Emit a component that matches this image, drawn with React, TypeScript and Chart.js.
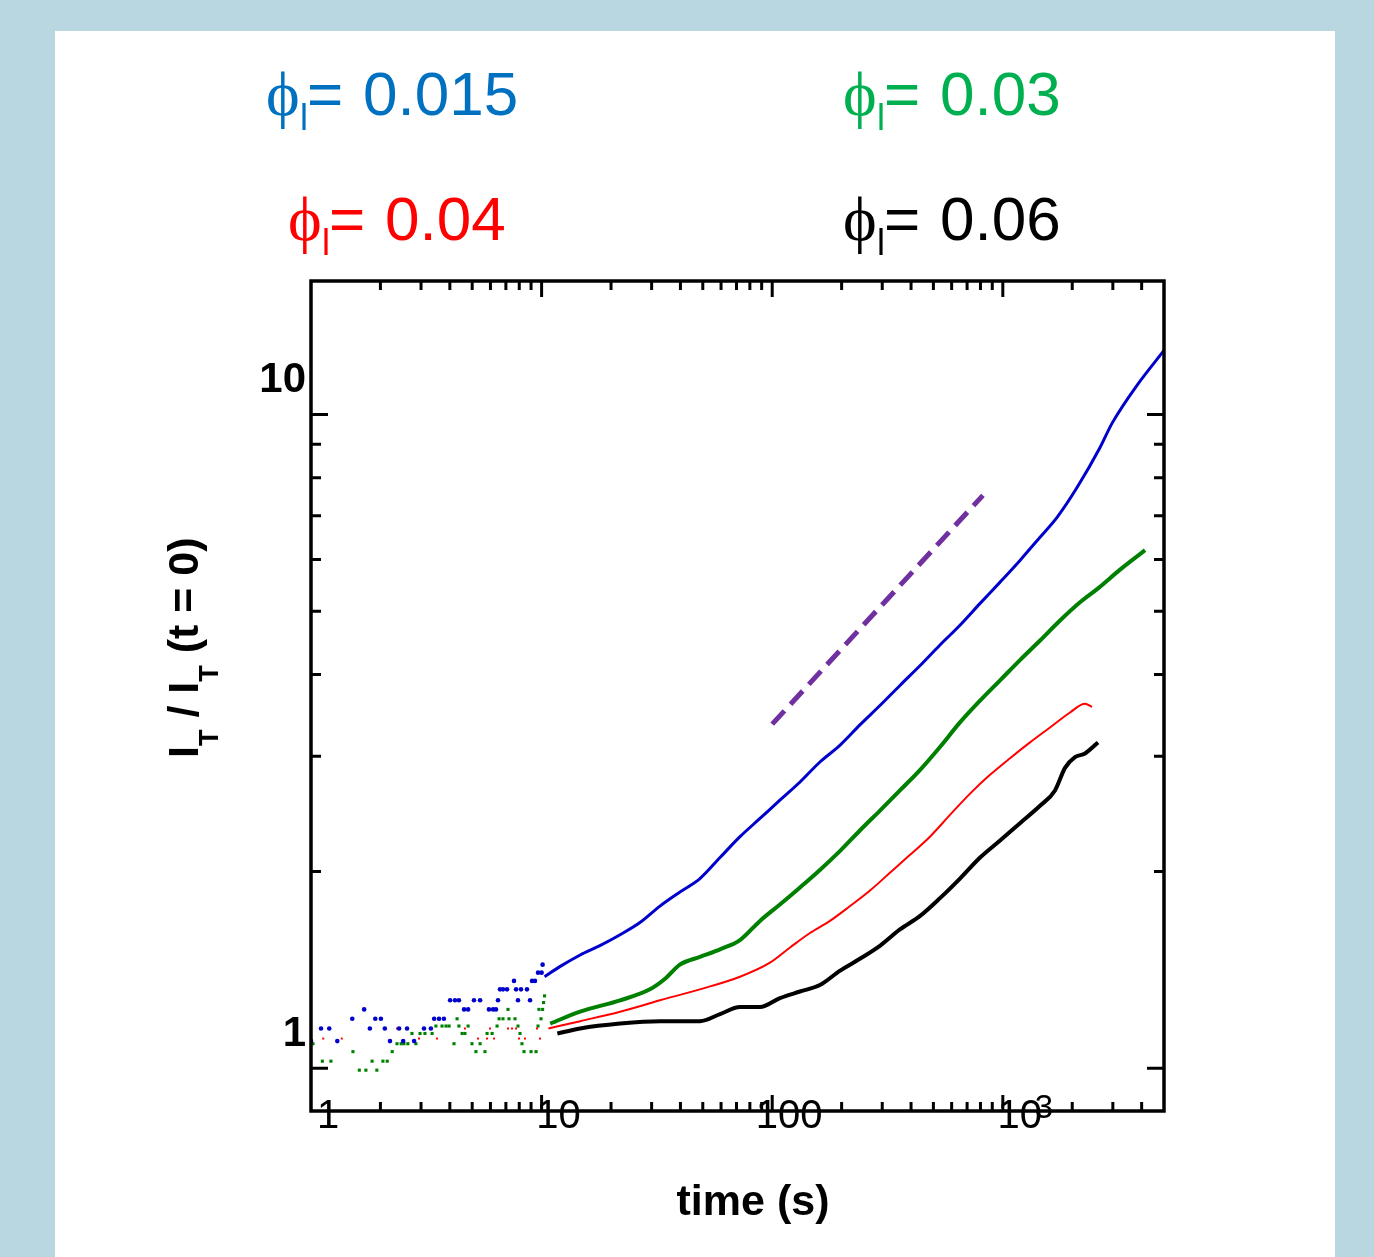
import { useEffect, useRef } from 'react';
import { Chart, registerables } from 'chart.js';

Chart.register(...registerables);

// ---------- data (time in s, normalized intensity) ----------
const blueDotT = [1.0, 1.105, 1.2, 1.3, 1.51, 1.7, 1.8, 1.9, 2.01, 2.09, 2.2, 2.41, 2.51, 2.61, 2.8, 3.09, 3.31, 3.42, 3.59, 3.77, 4.01, 4.21, 4.38, 4.61, 4.8, 5.09, 5.41, 5.91, 6.16, 6.34, 6.47, 6.6, 6.8, 7.08, 7.59, 7.75, 7.9, 8.14, 8.64, 8.91, 9.09, 9.36, 9.65, 10.0, 10.1];
const blueDotY = [1.1, 1.15, 1.15, 1.1, 1.19, 1.23, 1.15, 1.19, 1.19, 1.15, 1.1, 1.15, 1.1, 1.15, 1.1, 1.15, 1.15, 1.19, 1.19, 1.19, 1.27, 1.27, 1.27, 1.23, 1.23, 1.27, 1.27, 1.23, 1.23, 1.23, 1.27, 1.32, 1.32, 1.32, 1.36, 1.32, 1.27, 1.32, 1.32, 1.27, 1.36, 1.36, 1.4, 1.4, 1.44];

const greenDotT = [1.02, 1.12, 1.22, 1.52, 1.62, 1.73, 1.84, 1.93, 2.05, 2.14, 2.25, 2.36, 2.46, 2.53, 2.63, 2.74, 2.85, 2.97, 3.12, 3.35, 3.48, 3.59, 3.7, 3.85, 3.97, 4.17, 4.3, 4.38, 4.52, 4.65, 4.8, 4.99, 5.19, 5.41, 5.68, 5.8, 6.1, 6.41, 6.54, 6.8, 7.15, 7.22, 7.67, 7.9, 8.06, 8.22, 8.39, 9.0, 9.46, 9.65, 9.74, 9.94, 10.1, 10.2, 10.3];
const greenDotY = [1.09, 1.025, 1.025, 1.06, 0.993, 0.993, 1.025, 0.993, 1.025, 1.025, 1.06, 1.09, 1.09, 1.09, 1.09, 1.13, 1.09, 1.13, 1.13, 1.13, 1.16, 1.19, 1.16, 1.16, 1.16, 1.09, 1.19, 1.16, 1.13, 1.13, 1.16, 1.09, 1.06, 1.09, 1.06, 1.13, 1.13, 1.16, 1.19, 1.19, 1.23, 1.19, 1.19, 1.16, 1.13, 1.09, 1.06, 1.06, 1.06, 1.16, 1.23, 1.19, 1.23, 1.26, 1.29];

const redDotT = [1.13, 1.36, 2.36, 2.94, 3.52, 4.65, 5.3, 5.8, 5.97, 6.22, 7.15, 7.44, 7.75, 7.98, 8.47, 9.55, 9.84];
const redDotY = [1.11, 1.11, 1.15, 1.11, 1.11, 1.15, 1.11, 1.11, 1.15, 1.11, 1.15, 1.15, 1.15, 1.11, 1.11, 1.15, 1.11];

const blueT = [10.3, 12.0, 14.7, 17.9, 21.9, 26.7, 32.6, 39.8, 48.6, 59.4, 72.5, 88.5, 108, 132, 161, 197, 240, 294, 358, 438, 534, 652, 797, 973, 1187, 1450, 1719, 2098, 2640, 2975, 3818, 5000];
const blueY = [1.38, 1.43, 1.49, 1.54, 1.6, 1.67, 1.77, 1.86, 1.95, 2.1, 2.26, 2.41, 2.57, 2.74, 2.94, 3.12, 3.35, 3.59, 3.85, 4.13, 4.44, 4.76, 5.14, 5.54, 5.98, 6.49, 6.96, 7.73, 8.9, 9.69, 11.08, 12.53];

const greenT = [10.9, 14.7, 21.9, 29.5, 34.3, 39.8, 48.6, 59.4, 72.5, 88.5, 108, 132, 161, 197, 240, 294, 358, 438, 534, 652, 797, 973, 1187, 1450, 1771, 2162, 2588, 3224, 4137];
const greenY = [1.17, 1.22, 1.27, 1.32, 1.37, 1.44, 1.48, 1.52, 1.57, 1.68, 1.78, 1.89, 2.01, 2.15, 2.31, 2.48, 2.66, 2.86, 3.1, 3.38, 3.65, 3.92, 4.21, 4.51, 4.84, 5.16, 5.42, 5.79, 6.2];

const redT = [10.7, 14.7, 21.9, 32.6, 48.6, 72.5, 97.8, 119.5, 145.8, 178, 217.5, 265.6, 324, 396, 483, 590, 721, 880, 1075, 1312, 1602, 1956, 2273, 2437];
const redY = [1.15, 1.18, 1.22, 1.27, 1.32, 1.38, 1.45, 1.53, 1.61, 1.68, 1.77, 1.87, 1.99, 2.12, 2.26, 2.44, 2.63, 2.81, 2.98, 3.15, 3.32, 3.5, 3.61, 3.57];

const blackT = [11.7, 14.7, 21.9, 32.6, 48.6, 59.4, 72.5, 88.5, 108, 132, 161, 197, 240, 294, 358, 438, 534, 652, 797, 973, 1187, 1450, 1684, 1861, 2056, 2273, 2588];
const blackY = [1.13, 1.15, 1.17, 1.18, 1.18, 1.21, 1.24, 1.24, 1.28, 1.31, 1.34, 1.41, 1.47, 1.54, 1.63, 1.71, 1.82, 1.95, 2.1, 2.23, 2.37, 2.52, 2.66, 2.88, 2.99, 3.03, 3.15];

const guideT = [100, 820];
const guideY = [3.36, 7.52];

const legendValues = ['0.015', '0.03', '0.04', '0.06'];
const legendColors = ['#0070C0', '#00B050', '#FF0000', '#000000'];

const xMin = 1;
const xMax = 5000;
const yMin = 0.86;
const yMax = 16;

const SANS = '"Liberation Sans", Arial, Helvetica, sans-serif';
const SERIF = '"Liberation Serif", "DejaVu Serif", "Times New Roman", serif';

const pts = (xs: number[], ys: number[]) => xs.map((x, i) => ({ x, y: ys[i] }));

const isNiceLog = (v: number) => {
  const e = Math.floor(Math.log10(v) + 1e-9);
  const s = v / Math.pow(10, e);
  return Math.abs(s - Math.round(s)) < 1e-6 ? Math.round(s) : 0;
};

const near = (a: number, b: number) => Math.abs(a - b) < 1e-6 * Math.max(1, b);

export default function App() {
  const ref = useRef<HTMLCanvasElement>(null);

  useEffect(() => {
    const canvas = ref.current;
    if (!canvas) return;
    const W = 1374;
    const H = 1257;

    const bgPlugin = {
      id: 'bgPanel',
      beforeDraw(chart: any) {
        const ctx = chart.ctx;
        ctx.save();
        ctx.fillStyle = '#B8D7E0';
        ctx.fillRect(0, 0, W, H);
        ctx.fillStyle = '#FFFFFF';
        ctx.fillRect(55, 31, 1280, H - 31);
        ctx.restore();
      },
    };

    const framePlugin = {
      id: 'frameTicks',
      afterDatasetsDraw(chart: any) {
        const ctx = chart.ctx;
        const { left, right, top, bottom } = chart.chartArea;
        const xs = chart.scales.x;
        const ys = chart.scales.y;
        ctx.save();
        ctx.strokeStyle = '#000';
        ctx.lineWidth = 3;
        ctx.lineCap = 'butt';
        ctx.beginPath();
        for (const t of xs.ticks) {
          const v = t.value;
          const s = isNiceLog(v);
          if (!s || v <= xMin || v >= xMax) continue;
          const px = xs.getPixelForValue(v);
          const L = s === 1 ? 16 : 9;
          ctx.moveTo(px, bottom);
          ctx.lineTo(px, bottom - L);
          ctx.moveTo(px, top);
          ctx.lineTo(px, top + L);
        }
        for (const t of ys.ticks) {
          const v = t.value;
          const s = isNiceLog(v);
          if (!s || v <= yMin || v >= yMax) continue;
          const py = ys.getPixelForValue(v);
          const L = s === 1 ? 17 : 10;
          ctx.moveTo(left, py);
          ctx.lineTo(left + L, py);
          ctx.moveTo(right, py);
          ctx.lineTo(right - L, py);
        }
        ctx.stroke();
        ctx.lineWidth = 3.5;
        ctx.strokeRect(left, top, right - left, bottom - top);
        ctx.restore();
      },
      afterDraw(chart: any) {
        const ctx = chart.ctx;
        const xs = chart.scales.x;
        ctx.save();
        ctx.fillStyle = '#000';

        // exponent of the 10^3 tick label
        ctx.font = `33px ${SANS}`;
        ctx.textAlign = 'left';
        ctx.textBaseline = 'alphabetic';
        ctx.fillText('3', xs.getPixelForValue(1000) + 32, 1118);

        // x axis title
        ctx.font = `bold 43px ${SANS}`;
        ctx.textAlign = 'center';
        ctx.fillText('time (s)', 753, 1215);

        // y axis title (rotated, with subscripts)
        ctx.save();
        ctx.translate(198, 758);
        ctx.rotate(-Math.PI / 2);
        ctx.textAlign = 'left';
        const parts: [string, boolean][] = [
          ['I', false], ['T', true], [' / ', false], ['I', false], ['T', true], [' (t = 0)', false],
        ];
        let cx = 0;
        for (const [txt, sub] of parts) {
          ctx.font = sub ? `bold 27px ${SANS}` : `bold 43px ${SANS}`;
          ctx.fillText(txt, cx, sub ? 20 : 0);
          cx += ctx.measureText(txt).width;
        }
        ctx.restore();

        // phi labels
        const anchors = [
          [266, 115], [843, 115], [288, 240], [843, 240],
        ];
        legendValues.forEach((val, i) => {
          const [ax, ay] = anchors[i];
          ctx.fillStyle = legendColors[i];
          ctx.textAlign = 'left';
          ctx.font = `64px ${SERIF}`;
          ctx.fillText('\u03D5', ax, ay);
          ctx.font = `36px ${SANS}`;
          ctx.fillText('l', ax + 34, ay + 15);
          ctx.font = `62px ${SANS}`;
          ctx.fillText('=', ax + 41, ay);
          ctx.fillText(val, ax + 97, ay);
        });
        ctx.restore();
      },
    };

    const lineBase = { showLine: true, pointRadius: 0, cubicInterpolationMode: 'monotone' };

    const chart = new Chart(canvas, {
      type: 'scatter',
      data: {
        datasets: [
          { label: 'blue dots', data: pts(blueDotT, blueDotY), backgroundColor: '#0000CC', borderColor: '#0000CC', pointRadius: 2.3, pointStyle: 'circle', borderWidth: 0 },
          { label: 'red dots', data: pts(redDotT, redDotY), backgroundColor: '#FF0000', borderColor: '#FF0000', pointRadius: 1.4, pointStyle: 'rect', borderWidth: 0 },
          { label: 'green dots', data: pts(greenDotT, greenDotY), backgroundColor: '#008000', borderColor: '#008000', pointRadius: 2.2, pointStyle: 'rect', borderWidth: 0 },
          { ...lineBase, label: 'phi 0.015', data: pts(blueT, blueY), borderColor: '#0000CC', borderWidth: 3 },
          { ...lineBase, label: 'phi 0.03', data: pts(greenT, greenY), borderColor: '#008000', borderWidth: 4 },
          { ...lineBase, label: 'phi 0.04', data: pts(redT, redY), borderColor: '#FF0000', borderWidth: 2 },
          { ...lineBase, label: 'phi 0.06', data: pts(blackT, blackY), borderColor: '#000000', borderWidth: 4 },
          { label: 'guide', data: pts(guideT, guideY), showLine: true, borderColor: '#7030A0', borderWidth: 5, borderDash: [18, 9], pointRadius: 0 },
        ] as any,
      },
      options: {
        responsive: false,
        animation: false,
        events: [],
        layout: { padding: { left: 231, right: 210, top: 281, bottom: 6 } },
        plugins: { legend: { display: false }, tooltip: { enabled: false }, title: { display: false } },
        scales: {
          x: {
            type: 'logarithmic',
            min: xMin,
            max: xMax,
            grid: { display: false, drawTicks: false },
            border: { display: false },
            ticks: {
              autoSkip: false,
              maxRotation: 0,
              minRotation: 0,
              mirror: true,
              padding: -30,
              labelOffset: (c: any) => (c.tick && near(c.tick.value, 1000) ? 9 : 17),
              color: '#000',
              font: { family: SANS, size: 40 },
              callback: (v: any) => {
                const n = Number(v);
                if (near(n, 1)) return '1';
                if (near(n, 10)) return '10';
                if (near(n, 100)) return '100';
                if (near(n, 1000)) return '10';
                return '';
              },
            },
            afterFit: (s: any) => { s.height = 140; },
          },
          y: {
            type: 'logarithmic',
            min: yMin,
            max: yMax,
            grid: { display: false, drawTicks: false },
            border: { display: false },
            ticks: {
              autoSkip: false,
              padding: 5,
              labelOffset: -34,
              color: '#000',
              font: { family: SANS, size: 42, weight: 'bold' },
              callback: (v: any) => {
                const n = Number(v);
                if (near(n, 1)) return '1';
                if (near(n, 10)) return '10';
                return '';
              },
            },
            afterFit: (s: any) => { s.width = 80; },
          },
        },
      } as any,
      plugins: [bgPlugin, framePlugin],
    });

    return () => chart.destroy();
  }, []);

  return (
    <div style={{ position: 'absolute', left: 0, top: 0, width: 1374, height: 1257 }}>
      <canvas ref={ref} width={1374} height={1257} style={{ display: 'block' }} />
    </div>
  );
}
